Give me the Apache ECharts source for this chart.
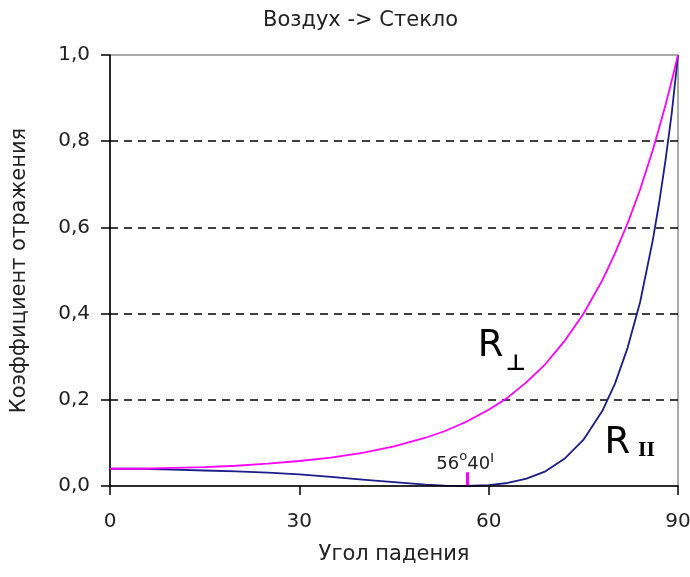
<!DOCTYPE html>
<html>
<head>
<meta charset="utf-8">
<script src="https://cdn.jsdelivr.net/npm/echarts@6/dist/echarts.min.js"></script>
<style>
  html, body {margin: 0; padding: 0; background: #fff;}
  #fresnel {width: 690px; height: 577px;}
</style>
</head>
<body>
<div id="fresnel"></div>
<script>
// angle of incidence, degrees
var angles = [0, 5, 10, 15, 20, 25, 30, 35, 40, 45, 50, 53, 56.3, 60, 63, 66, 69, 72, 75, 78, 80, 82, 84, 86, 87, 88, 89, 90];
// R perpendicular (magenta)
var rPerp = [0.040, 0.040, 0.042, 0.044, 0.047, 0.052, 0.058, 0.066, 0.077, 0.092, 0.112, 0.127, 0.148, 0.177, 0.205, 0.241, 0.283, 0.336, 0.399, 0.477, 0.539, 0.609, 0.688, 0.779, 0.830, 0.883, 0.940, 1.0];
// R parallel (navy)
var rPar = [0.040, 0.040, 0.038, 0.036, 0.034, 0.031, 0.027, 0.021, 0.015, 0.009, 0.003, 0.001, 0.000, 0.002, 0.007, 0.017, 0.034, 0.063, 0.107, 0.174, 0.237, 0.320, 0.427, 0.570, 0.656, 0.754, 0.864, 1.0];
var yTickLabels = ['0,0', '0,2', '0,4', '0,6', '0,8', '1,0'];
var brewster = 56.67;

function pairs(ys) {
    return angles.map(function (a, i) { return [a, ys[i]]; });
}

var font = 'DejaVu Sans';
var chart = echarts.init(document.getElementById('fresnel'));
var option = {
    animation: false,
    backgroundColor: '#fff',
    title: {
        text: 'Воздух -> Стекло',
        left: 258, top: 5,
        textStyle: {fontFamily: font, fontSize: 21, fontWeight: 'normal', color: '#222'}
    },
    grid: {
        left: 110, right: 12, top: 55, bottom: 91,
        outerBoundsMode: 'none',
        show: true, borderColor: '#555', borderWidth: 1
    },
    xAxis: {
        type: 'value', min: 0, max: 90, interval: 30,
        name: 'Угол падения', nameLocation: 'middle', nameGap: 58,
        nameTextStyle: {fontFamily: font, fontSize: 21, color: '#222'},
        axisLine: {lineStyle: {color: '#000', width: 1.5}},
        axisTick: {length: 9, lineStyle: {color: '#000', width: 1.5}},
        axisLabel: {margin: 26, fontFamily: font, fontSize: 20, color: '#222'},
        splitLine: {show: false},
        z: 5
    },
    yAxis: {
        type: 'value', min: 0, max: 1, interval: 0.2,
        name: 'Коэффициент отражения', nameLocation: 'middle', nameGap: 80,
        nameTextStyle: {fontFamily: font, fontSize: 21, color: '#222'},
        axisLine: {show: true, lineStyle: {color: '#000', width: 1.5}},
        axisTick: {show: true, length: 9, lineStyle: {color: '#000', width: 1.5}},
        axisLabel: {
            margin: 20, fontFamily: font, fontSize: 20, color: '#222',
            formatter: function (v) { return yTickLabels[Math.round(v / 0.2)]; }
        },
        splitLine: {showMinLine: false, showMaxLine: false, lineStyle: {color: '#000', width: 1.5, type: [8, 6]}}
    },
    series: [
        {
            name: 'R||',
            type: 'line',
            data: pairs(rPar),
            symbol: 'none',
            lineStyle: {color: '#1c1c8a', width: 1.8},
            markPoint: {
                symbol: 'circle', symbolSize: 1, silent: true,
                itemStyle: {color: 'rgba(0,0,0,0)'},
                data: [
                    {coord: [80.4, 0.10], label: {show: true, position: 'inside', formatter: 'R', fontFamily: font, fontSize: 37, color: '#000'}},
                    {coord: [85.0, 0.080], label: {show: true, position: 'inside', formatter: 'II', fontFamily: 'DejaVu Serif', fontSize: 18, fontWeight: 'bold', color: '#000'}}
                ]
            }
        },
        {
            name: 'R⊥',
            type: 'line',
            data: pairs(rPerp),
            symbol: 'none',
            lineStyle: {color: '#ff00ff', width: 1.8},
            markLine: {
                symbol: 'none', silent: true,
                label: {show: false},
                lineStyle: {color: '#ff00ff', width: 3, type: 'solid'},
                data: [[{coord: [brewster, 0]}, {coord: [brewster, 0.032]}]]
            },
            markPoint: {
                symbol: 'circle', symbolSize: 1, silent: true,
                itemStyle: {color: 'rgba(0,0,0,0)'},
                data: [
                    {coord: [60.3, 0.325], label: {show: true, position: 'inside', formatter: 'R', fontFamily: font, fontSize: 37, color: '#000'}},
                    {coord: [64.3, 0.283], label: {show: true, position: 'inside', formatter: '⊥', fontFamily: font, fontSize: 22, fontWeight: 'bold', color: '#000'}},
                    {coord: [56.3, 0.056], label: {
                        show: true, position: 'inside',
                        formatter: '{a|56}{b|o}{a|40}{c|ı}',
                        rich: {
                            a: {fontFamily: font, fontSize: 18, color: '#222', verticalAlign: 'bottom'},
                            b: {fontFamily: font, fontSize: 13, color: '#222', verticalAlign: 'top', padding: [0, 0, 8, 0]},
                            c: {fontFamily: font, fontSize: 15, color: '#222', verticalAlign: 'top', padding: [0, 0, 8, 0]}
                        }
                    }}
                ]
            }
        }
    ]
};
chart.setOption(option);
</script>
</body>
</html>
